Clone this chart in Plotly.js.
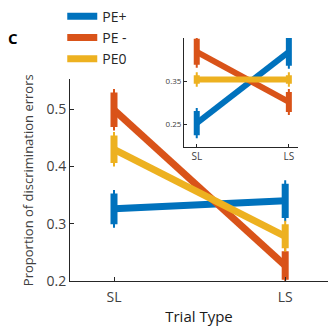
<!DOCTYPE html>
<html>
<head>
<meta charset="utf-8">
<script src="https://cdn.plot.ly/plotly-3.0.1.min.js"></script>
<style>html,body{margin:0;padding:0;background:#fff;}#chart{width:329px;height:326px;}</style>
</head>
<body>
<div id="chart"></div>
<script>
// Trial types on the x axis
const trialTypes = ['SL', 'LS'];
const seriesNames = ['PE+', 'PE -', 'PE0'];

// Main panel: proportion of discrimination errors and error bar half-widths
const mainPEplus = [0.326, 0.340];
const mainPEplusErr = [0.027, 0.030];
const mainPEminus = [0.499, 0.227];
const mainPEminusErr = [0.030, 0.025];
const mainPEzero = [0.430, 0.278];
const mainPEzeroErr = [0.024, 0.021];

// Inset panel values and error bar half-widths
const insetPEplus = [0.253, 0.418];
const insetPEplusErr = [0.028, 0.032];
const insetPEminus = [0.418, 0.302];
const insetPEminusErr = [0.030, 0.023];
const insetPEzero = [0.354, 0.354];
const insetPEzeroErr = [0.010, 0.010];

const colors = ['#0072BD', '#D95319', '#EDB120'];
const xIdx = [1, 2];

function series(y, err, i, xa, ya, lw, ew, show) {
  return {
    x: xIdx, y: y, xaxis: xa, yaxis: ya,
    type: 'scatter', mode: 'lines',
    name: seriesNames[i], showlegend: show,
    line: {color: colors[i], width: lw},
    error_y: {type: 'data', array: err, visible: true, color: colors[i], thickness: ew, width: 1}
  };
}

const data = [
  series(mainPEplus, mainPEplusErr, 0, 'x', 'y', 7, 7, true),
  series(mainPEminus, mainPEminusErr, 1, 'x', 'y', 7, 7, true),
  series(mainPEzero, mainPEzeroErr, 2, 'x', 'y', 7, 7, true),
  series(insetPEplus, insetPEplusErr, 0, 'x2', 'y2', 6, 6, false),
  series(insetPEminus, insetPEminusErr, 1, 'x2', 'y2', 6, 6, false),
  series(insetPEzero, insetPEzeroErr, 2, 'x2', 'y2', 6, 6, false)
];

const axisColor = '#262626';
const fontFam = '"Open Sans", "Liberation Sans", sans-serif';

const layout = {
  width: 329, height: 326,
  margin: {l: 70, r: 1, t: 30, b: 45},
  paper_bgcolor: '#fff', plot_bgcolor: '#fff',
  font: {family: fontFam, color: '#404040'},
  showlegend: true,
  legend: {
    x: -0.03, y: 1.13, xanchor: 'left', yanchor: 'top',
    font: {size: 14, color: '#262626', family: fontFam},
    bgcolor: 'rgba(0,0,0,0)', tracegroupgap: 0, itemwidth: 30
  },
  xaxis: {
    domain: [0, 1], range: [0.743, 2.25],
    tickvals: xIdx, ticktext: trialTypes,
    showline: true, linecolor: axisColor, linewidth: 1,
    ticks: 'inside', ticklen: 4, tickcolor: axisColor,
    showgrid: false, zeroline: false,
    ticklabelstandoff: 3,
    tickfont: {size: 14, color: '#404040'},
    title: {text: 'Trial Type', font: {size: 15, color: '#1a1a1a'}, standoff: 9}
  },
  yaxis: {
    domain: [0, 0.8127], range: [0.2, 0.552],
    tickvals: [0.2, 0.3, 0.4, 0.5],
    showline: true, linecolor: axisColor, linewidth: 1,
    ticks: 'inside', ticklen: 4, tickcolor: axisColor,
    showgrid: false, zeroline: false,
    tickfont: {size: 14, color: '#404040'},
    title: {text: 'Proportion of discrimination errors', font: {size: 13, color: '#404040'}, standoff: 9}
  },
  xaxis2: {
    domain: [0.442, 0.884], range: [0.862, 2.1], anchor: 'y2',
    tickvals: xIdx, ticktext: trialTypes,
    showline: true, linecolor: axisColor, linewidth: 1,
    ticks: 'inside', ticklen: 3, tickcolor: axisColor,
    showgrid: false, zeroline: false,
    tickfont: {size: 10, color: '#404040'}
  },
  yaxis2: {
    domain: [0.539, 0.980], range: [0.197, 0.45], anchor: 'x2',
    tickvals: [0.25, 0.35], ticktext: ['0.25', '0.35'],
    showline: true, linecolor: axisColor, linewidth: 1,
    ticks: 'inside', ticklen: 3, tickcolor: axisColor,
    showgrid: false, zeroline: false,
    tickfont: {size: 8, color: '#404040'}
  },
  annotations: [{
    text: '<b>C</b>', xref: 'paper', yref: 'paper',
    x: -0.25, y: 0.98, xanchor: 'left', yanchor: 'middle',
    showarrow: false, font: {size: 15, color: '#000'}
  }]
};

Plotly.newPlot('chart', data, layout, {displayModeBar: false, staticPlot: true});
</script>
</body>
</html>
